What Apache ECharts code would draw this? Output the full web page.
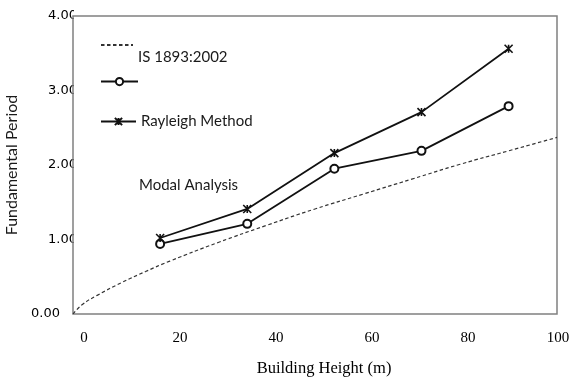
<!DOCTYPE html>
<html>
<head>
<meta charset="utf-8">
<script src="https://cdn.jsdelivr.net/npm/echarts@6/dist/echarts.min.js"></script>
<style>
  html, body { margin: 0; padding: 0; background: #fff; }
  #chart { width: 572px; height: 377px; }
</style>
</head>
<body>
<div id="chart"></div>
<script>
// Building heights (m) of the studied frames
const heights = [18, 36, 54, 72, 90];
// Fundamental period (s) from modal analysis
const modalPeriod = [0.94, 1.21, 1.95, 2.19, 2.79];
// Fundamental period (s) from Rayleigh's method
const rayleighPeriod = [1.02, 1.41, 2.16, 2.71, 3.56];
// Code empirical curve (IS 1893:2002)
const codeHeights = [0, 2, 5, 10, 15, 20, 30, 40, 50, 60, 70, 80, 90, 100];
const codePeriod = [0, 0.13, 0.25, 0.42, 0.57, 0.71, 0.96, 1.19, 1.41, 1.61, 1.81, 2.01, 2.19, 2.37];
// Axis tick labels
const yTicks = [0, 1, 2, 3, 4];
const xTicks = [0, 20, 40, 60, 80, 100];

const seriesNames = ['IS 1893:2002', 'Modal Analysis', 'Rayleigh Method'];

const pairs = (xs, ys) => xs.map((x, i) => [x, ys[i]]);

const chart = echarts.init(document.getElementById('chart'), null, { renderer: 'canvas' });

const legendText = { fontFamily: 'Lato', fontSize: 15, color: '#1a1a1a' };
const xLabelFont = { fontFamily: 'Liberation Serif', fontSize: 15, color: '#000' };

chart.setOption({
  animation: false,
  backgroundColor: '#fff',
  grid: [
    { left: 73, top: 16, right: 15, bottom: 63, outerBoundsMode: 'none', containLabel: false,
      show: true, z: 2, borderColor: '#808080', borderWidth: 1.5, backgroundColor: 'transparent' },
    { left: 84, top: 16, right: 8, bottom: 63, outerBoundsMode: 'none', containLabel: false, show: false }
  ],
  xAxis: [
    {
      type: 'value', gridIndex: 0, min: 0, max: 100, interval: 20,
      axisLine: { show: false }, axisTick: { show: false }, axisLabel: { show: false }, splitLine: { show: false }
    },
    {
      type: 'value', gridIndex: 1, min: xTicks[0], max: xTicks[xTicks.length - 1], interval: 20,
      axisLine: { show: false }, axisTick: { show: false }, splitLine: { show: false },
      axisLabel: Object.assign({
        margin: 17,
        // the last label is nudged inward so it stays on the canvas
        formatter: v => v === xTicks[xTicks.length - 1] ? '{e|' + v + '}' : String(v),
        rich: { e: Object.assign({ padding: [0, 12, 0, 0] }, xLabelFont) }
      }, xLabelFont),
      name: 'Building Height (m)', nameLocation: 'middle', nameGap: 46,
      nameTextStyle: { fontFamily: 'Liberation Serif', fontSize: 16.5, color: '#000' }
    }
  ],
  yAxis: [
    {
      type: 'value', gridIndex: 0, min: yTicks[0], max: yTicks[yTicks.length - 1], interval: 1,
      axisLine: { show: false }, axisTick: { show: false }, splitLine: { show: false },
      axisLabel: {
        margin: -4, align: 'right', fontFamily: 'DejaVu Sans', fontSize: 13, color: '#000',
        formatter: v => v === 0 ? '{z|' + v.toFixed(2) + '}' : v.toFixed(2),
        rich: { z: { fontFamily: 'DejaVu Sans', fontSize: 13, color: '#000', padding: [0, 17, 0, 0] } }
      },
      name: 'Fundamental Period', nameLocation: 'middle', nameGap: 53,
      nameTextStyle: { fontFamily: 'Lato', fontSize: 16, color: '#1a1a1a' }
    },
    {
      type: 'value', gridIndex: 1, min: 0, max: 4, show: false
    }
  ],
  graphic: [
    {
      // white panel right of the y axis hides the overflowing part of the tick labels
      type: 'rect', z: 1, silent: true,
      shape: { x: 74, y: 0, width: 498, height: 313 },
      style: { fill: '#fff' }
    },
    {
      type: 'text', z: 3, left: 139, top: 178,
      style: { text: 'Modal Analysis', font: '15px Lato', fill: '#1a1a1a' }
    }
  ],
  legend: [
    {
      data: [seriesNames[0]], left: 100, top: 41, padding: 0, selectedMode: false,
      itemWidth: 32, itemHeight: 10, itemGap: 0,
      itemStyle: { opacity: 0 },
      formatter: n => '{a|' + n + '}',
      textStyle: Object.assign({}, legendText, { rich: { a: Object.assign({ padding: [24, 0, 0, 0] }, legendText) } })
    },
    {
      data: [seriesNames[1]], left: 100, top: 77, padding: 0, selectedMode: false,
      itemWidth: 37, itemHeight: 9, itemGap: 0,
      formatter: () => '',
      textStyle: legendText
    },
    {
      data: [seriesNames[2]], left: 100, top: 114, padding: 0, selectedMode: false,
      itemWidth: 35, itemHeight: 9, itemGap: 0,
      textStyle: legendText
    }
  ],
  series: [
    {
      name: seriesNames[0], type: 'line', xAxisIndex: 0, yAxisIndex: 0,
      data: pairs(codeHeights, codePeriod), smooth: true, showSymbol: false, symbol: 'none',
      lineStyle: { color: '#333', width: 1.2, type: [3.5, 2.5] },
      itemStyle: { color: '#333' }, z: 3
    },
    {
      name: seriesNames[1], type: 'line', xAxisIndex: 0, yAxisIndex: 0,
      data: pairs(heights, modalPeriod),
      symbol: 'emptyCircle', symbolSize: 8,
      lineStyle: { color: '#111', width: 1.8 },
      itemStyle: { color: '#111', borderColor: '#111', borderWidth: 1.3 }, z: 3
    },
    {
      name: seriesNames[2], type: 'line', xAxisIndex: 0, yAxisIndex: 0,
      data: pairs(heights, rayleighPeriod),
      symbol: 'path://M0,0L10,10M10,0L0,10M5,0L5,10', symbolSize: 8,
      lineStyle: { color: '#111', width: 1.8 },
      itemStyle: { color: '#111', borderColor: '#111', borderWidth: 1.6 }, z: 3
    }
  ]
});
</script>
</body>
</html>
